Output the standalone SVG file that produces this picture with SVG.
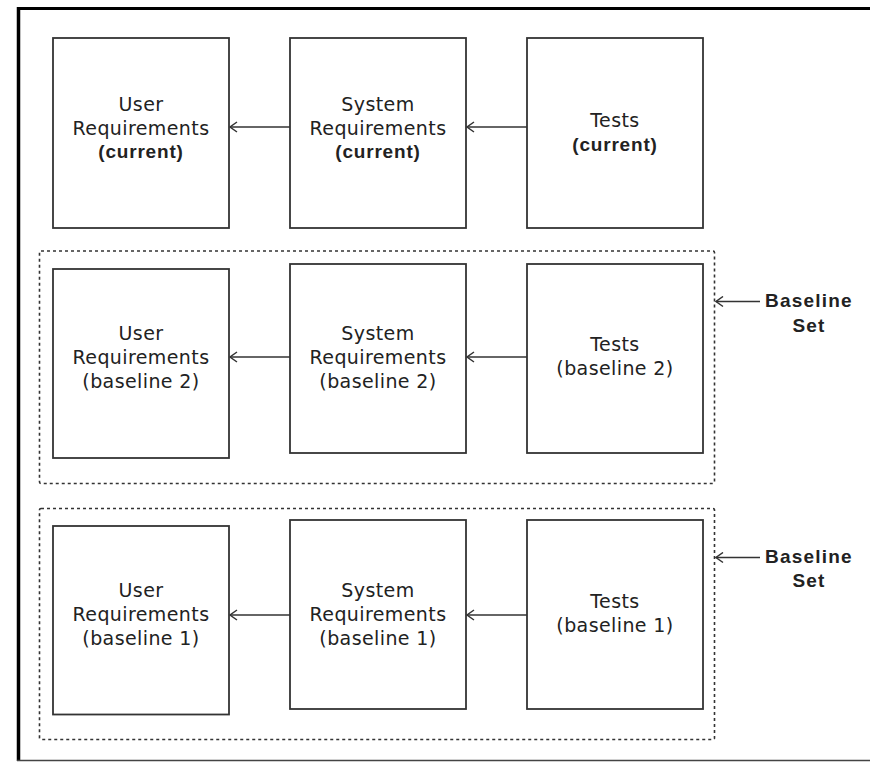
<svg xmlns="http://www.w3.org/2000/svg" width="870" height="762" viewBox="0 0 870 762">
<defs>
<style>
.node{fill:#fff;stroke:#333;stroke-width:1.8}
.grp{fill:none;stroke:#333;stroke-width:1.6;stroke-dasharray:3 3}
.t{font-family:"DejaVu Sans","Liberation Sans",Arial,sans-serif;font-size:19px;fill:#222;text-anchor:middle;letter-spacing:0.4px}
.b{font-family:"Liberation Sans",Arial,sans-serif;font-weight:bold;letter-spacing:0.8px}
.lb{font-family:"Liberation Sans",Arial,sans-serif;font-size:19px;font-weight:bold;fill:#222;text-anchor:middle;letter-spacing:1.2px}
.c{fill:none;stroke:#333;stroke-width:1.5}
</style>
<marker id="ah" markerWidth="12" markerHeight="12" refX="8" refY="6" orient="auto" markerUnits="userSpaceOnUse">
<path d="M1,1 L8,6 L1,11" fill="none" stroke="#333" stroke-width="1.5"/>
</marker>
</defs>
<rect width="870" height="762" fill="#fff"/>
<g id="frame">
<line x1="17" y1="8.5" x2="870" y2="8.5" stroke="#000" stroke-width="3"/>
<line x1="18.5" y1="7" x2="18.5" y2="761" stroke="#000" stroke-width="3.5"/>
<line x1="17" y1="760.5" x2="870" y2="760.5" stroke="#444" stroke-width="1.5"/>
</g>
<g id="baseline-set-2">
<rect class="grp" x="39.5" y="251" width="675" height="232.5" rx="1.5"/>
</g>
<g id="baseline-set-1">
<rect class="grp" x="39.5" y="508.5" width="675" height="231" rx="1.5"/>
</g>
<g id="user-req-current">
<rect class="node" x="53" y="38" width="176" height="190"/>
<text class="t" x="141" y="111">User</text>
<text class="t" x="141" y="134.5">Requirements</text>
<text class="t b" x="141" y="158">(current)</text>
</g>
<g id="sys-req-current">
<rect class="node" x="290" y="38" width="176" height="190"/>
<text class="t" x="378" y="111">System</text>
<text class="t" x="378" y="134.5">Requirements</text>
<text class="t b" x="378" y="158">(current)</text>
</g>
<g id="tests-current">
<rect class="node" x="527" y="38" width="176" height="190"/>
<text class="t" x="615" y="127">Tests</text>
<text class="t b" x="615" y="150.5">(current)</text>
</g>
<g id="user-req-b2">
<rect class="node" x="53" y="269" width="176" height="189"/>
<text class="t" x="141" y="340">User</text>
<text class="t" x="141" y="364">Requirements</text>
<text class="t" x="141" y="388">(baseline 2)</text>
</g>
<g id="sys-req-b2">
<rect class="node" x="290" y="264" width="176" height="189"/>
<text class="t" x="378" y="340">System</text>
<text class="t" x="378" y="364">Requirements</text>
<text class="t" x="378" y="388">(baseline 2)</text>
</g>
<g id="tests-b2">
<rect class="node" x="527" y="264" width="176" height="189"/>
<text class="t" x="615" y="351">Tests</text>
<text class="t" x="615" y="375">(baseline 2)</text>
</g>
<g id="user-req-b1">
<rect class="node" x="53" y="526" width="176" height="188.5"/>
<text class="t" x="141" y="597">User</text>
<text class="t" x="141" y="621">Requirements</text>
<text class="t" x="141" y="645">(baseline 1)</text>
</g>
<g id="sys-req-b1">
<rect class="node" x="290" y="520" width="176" height="189"/>
<text class="t" x="378" y="597">System</text>
<text class="t" x="378" y="621">Requirements</text>
<text class="t" x="378" y="645">(baseline 1)</text>
</g>
<g id="tests-b1">
<rect class="node" x="527" y="520" width="176" height="189"/>
<text class="t" x="615" y="608">Tests</text>
<text class="t" x="615" y="632">(baseline 1)</text>
</g>
<g id="label-b2">
<text class="lb" x="809" y="306.5">Baseline</text>
<text class="lb" x="809" y="331.5">Set</text>
</g>
<g id="label-b1">
<text class="lb" x="809" y="563">Baseline</text>
<text class="lb" x="809" y="587">Set</text>
</g>
<g id="connectors">
<line class="c" x1="290" y1="127" x2="230" y2="127" marker-end="url(#ah)"/>
<line class="c" x1="527" y1="127" x2="467" y2="127" marker-end="url(#ah)"/>
<line class="c" x1="290" y1="357" x2="230" y2="357" marker-end="url(#ah)"/>
<line class="c" x1="527" y1="357" x2="467" y2="357" marker-end="url(#ah)"/>
<line class="c" x1="290" y1="615" x2="230" y2="615" marker-end="url(#ah)"/>
<line class="c" x1="527" y1="615" x2="467" y2="615" marker-end="url(#ah)"/>
<line class="c" x1="760" y1="301.5" x2="716" y2="301.5" marker-end="url(#ah)"/>
<line class="c" x1="760" y1="557.5" x2="716" y2="557.5" marker-end="url(#ah)"/>
</g>
</svg>
